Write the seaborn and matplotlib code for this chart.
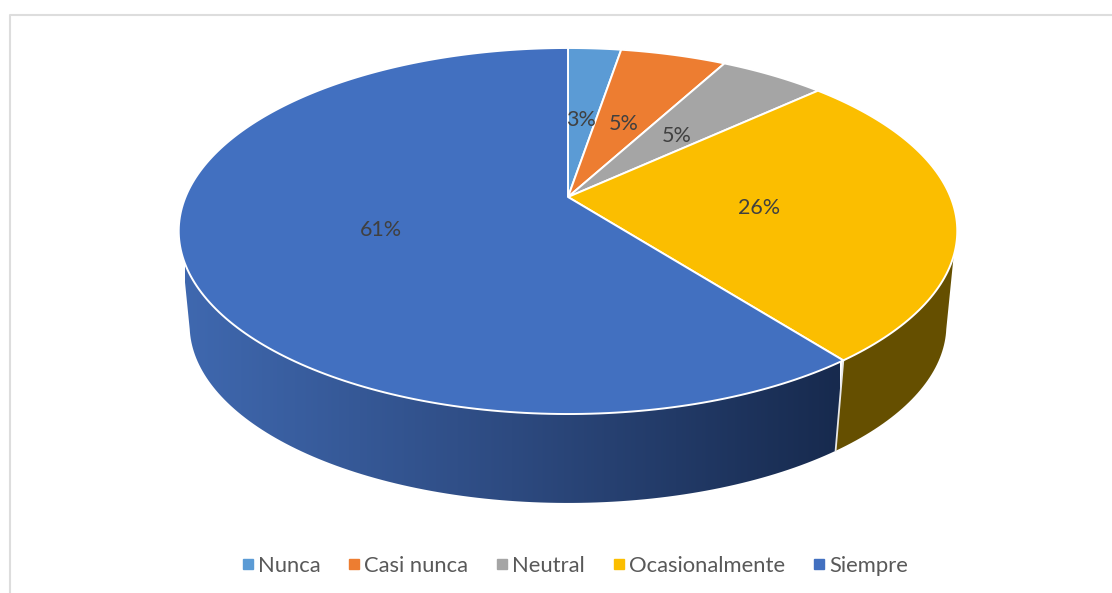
#!/usr/bin/env python3
"""Pie de frecuencias con perspectiva 3D."""
import numpy as np
import seaborn as sns
import matplotlib
matplotlib.use("Agg")
import matplotlib.pyplot as plt
from matplotlib.lines import Line2D
from matplotlib.patches import Polygon

categories = ["Nunca", "Casi nunca", "Neutral", "Ocasionalmente", "Siempre"]
counts = [1, 2, 2, 10, 23]
slice_colors = ["#5B9BD5", "#ED7D31", "#A5A5A5", "#FBBE00", "#4270C0"]

sns.set_theme(style="white")
plt.rcParams["font.family"] = ["Lato", "DejaVu Sans"]

# figure pixels are the data units
fig = plt.figure(figsize=(11.12, 5.93), dpi=100)
ax = fig.add_axes([0, 0, 1, 1])
ax.set_xlim(0, 1112)
ax.set_ylim(593, 0)
ax.axis("off")

TILT = 0.1858


def project(theta_deg, radius=1.0, cy=197.0, scale=1.0):
    # theta clockwise from 12 o'clock, circle seen in perspective
    t = np.radians(theta_deg)
    xx, yy = radius * np.sin(t), radius * np.cos(t)
    w = 1 + TILT * yy
    return 568 + scale * 382.5 * xx / w, cy - scale * 176.7 * yy / w


def rim(start, end, **kw):
    th = np.linspace(start, end, max(int(abs(end - start)), 2) + 1)
    return np.column_stack(project(th, **kw))


LOWER = dict(cy=292.0, scale=0.972)
total = sum(counts)
edges = np.cumsum([0] + counts) / total * 360

# chart frame, cut off by the image on the right and bottom
ax.plot([10, 10, 1112], [593, 14.5, 14.5], color="#DDDDDD", lw=1.5, solid_capstyle="butt")

# side walls: only yellow and blue show
wall_yellow = np.vstack([rim(108.3, edges[4]), rim(edges[4], 102, **LOWER)])
ax.add_patch(Polygon(wall_yellow, closed=True, fc="#654F00", ec="none", zorder=2))

wall_blue = np.vstack([rim(edges[4], 251.7), rim(258, edges[4], **LOWER)])
wall = Polygon(wall_blue, closed=True, fc="none", ec="none", zorder=2)
ax.add_patch(wall)
shade = sns.blend_palette(["#3F68AF", "#2D4A80", "#172A4E"], as_cmap=True)
img = ax.imshow(np.linspace(0, 1, 256)[None, :], cmap=shade, aspect="auto",
                extent=(185, 840, 510, 230), zorder=2)
img.set_clip_path(wall)
ax.set_xlim(0, 1112)
ax.set_ylim(593, 0)

sep = np.vstack([project(edges[4]), project(edges[4], **LOWER)])
ax.plot(sep[:, 0], sep[:, 1], color="#E8E8E8", lw=1.3, zorder=3)

# top face
for i, color in enumerate(slice_colors):
    arc = rim(edges[i], edges[i + 1])
    pts = np.vstack([project(0, radius=0), arc])
    ax.add_patch(Polygon(pts, closed=True, fc=color, ec="white", lw=1.4,
                         joinstyle="round", zorder=4))

# percent labels halfway along each slice
for i, n in enumerate(counts):
    lx, ly = project((edges[i] + edges[i + 1]) / 2, radius=0.5)
    ax.text(lx - 1, ly + 3.5, f"{100 * n / total:.0f}%", ha="center", va="center",
            fontsize=15.5, color="#404040", zorder=5)

handles = [Line2D([], [], ls="none", marker="s", ms=6.5, color=c) for c in slice_colors]
ax.legend(handles, categories, ncol=5, loc="center", bbox_to_anchor=(574 / 1112, 1 - 566 / 593),
          frameon=False, fontsize=15.8, labelcolor="#595959", handlelength=0.7,
          handletextpad=0.1, columnspacing=1.2)

fig.savefig("out.png", dpi=100, facecolor="white")
